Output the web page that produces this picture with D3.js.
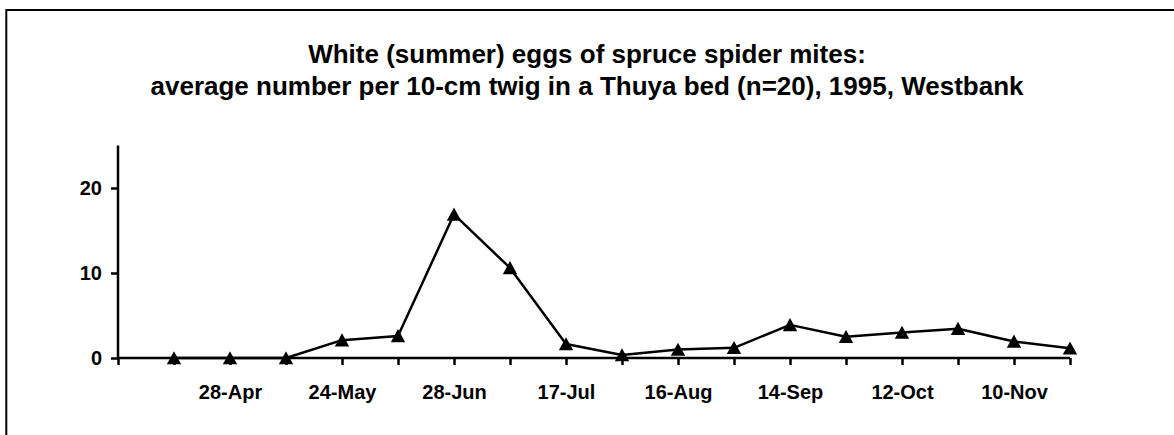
<!DOCTYPE html>
<html>
<head>
<meta charset="utf-8">
<script src="https://cdn.jsdelivr.net/npm/d3@7"></script>
<style>
    body { margin: 0; background: #fff; }
    text { font-family: "Liberation Sans", Arial, sans-serif; font-weight: bold; fill: #000; }
</style>
</head>
<body>
<div id="chart-container"></div>
<script>
// sampling dates (only every second one is labelled on the axis)
const dates = ["", "28-Apr", "", "24-May", "", "28-Jun", "", "17-Jul", "", "16-Aug", "", "14-Sep", "", "12-Oct", "", "10-Nov", ""];
// average number of white eggs per 10-cm twig
const eggs = [0, 0, 0, 2.1, 2.6, 16.9, 10.6, 1.65, 0.35, 1.0, 1.2, 3.9, 2.5, 3.0, 3.45, 1.95, 1.15];
const yTicks = [0, 10, 20];
const titleLines = [
    "White (summer) eggs of spruce spider mites:",
    "average number per 10-cm twig in a Thuya bed (n=20), 1995, Westbank"
];

// define width and height of chart
const W = 1174, H = 435;
const margin = {top: 145.5, right: 104, bottom: 77, left: 118};
const width = W - margin.left - margin.right;
const height = H - margin.top - margin.bottom;

const root = d3.select("#chart-container")
    .append("svg")
        .attr("width", W)
        .attr("height", H);

// frame (runs off the right and bottom of the picture)
root.append("rect")
    .attr("x", 6.3)
    .attr("y", 10)
    .attr("width", W + 20)
    .attr("height", H + 20)
    .attr("fill", "none")
    .attr("stroke", "#000")
    .attr("stroke-width", 2);

// title
root.append("text")
    .attr("text-anchor", "middle")
    .style("font-size", "26px")
    .selectAll("tspan")
    .data(titleLines)
    .join("tspan")
        .attr("x", W / 2)
        .attr("y", (d, i) => 63 + i * 32)
        .text(d => d);

const svg = root.append("g")
    .attr("transform", `translate(${margin.left}, ${margin.top})`);

// x scale: category index, 0 sits on the y axis
const xScale = d3.scaleLinear()
    .domain([0, eggs.length])
    .range([0, width]);
// y scale
const yScale = d3.scaleLinear()
    .domain([0, 25])
    .range([height, 0]);

// x axis
const xAxis = d3.axisBottom(xScale)
    .tickValues(d3.range(0, eggs.length + 1))
    .tickSize(7)
    .tickPadding(20)
    .tickFormat(d => d > 0 ? dates[d - 1] : "");
svg.append("g")
    .attr("class", "x-axis")
    .attr("transform", `translate(0, ${height})`)
    .call(xAxis)
    .call(g => g.selectAll("text").style("font-size", "20px").attr("dy", "0.71em"));

// y axis
const yAxis = d3.axisLeft(yScale)
    .tickValues(yTicks)
    .tickSize(7)
    .tickPadding(9);
svg.append("g")
    .attr("class", "y-axis")
    .call(yAxis)
    .call(g => g.selectAll("text").style("font-size", "20px"));

svg.selectAll(".domain, .tick line")
    .attr("stroke", "#000")
    .attr("stroke-width", 2.5);
// no end ticks on the domain paths
svg.select(".x-axis .domain").attr("d", `M0,0H${width}`);
svg.select(".y-axis .domain").attr("d", `M0,0V${height}`);

// line
const line = d3.line()
    .x((d, i) => xScale(i + 1))
    .y(d => yScale(d));
svg.append("path")
    .datum(eggs)
    .attr("fill", "none")
    .attr("stroke", "#000")
    .attr("stroke-width", 2.5)
    .attr("stroke-linejoin", "round")
    .attr("d", line);

// triangle markers
svg.selectAll(".marker")
    .data(eggs)
    .join("path")
        .attr("class", "marker")
        .attr("transform", (d, i) => `translate(${xScale(i + 1)}, ${yScale(d)})`)
        .attr("d", "M0,-6.8L7.2,6.3L-7.2,6.3Z")
        .attr("fill", "#000");
</script>
</body>
</html>
